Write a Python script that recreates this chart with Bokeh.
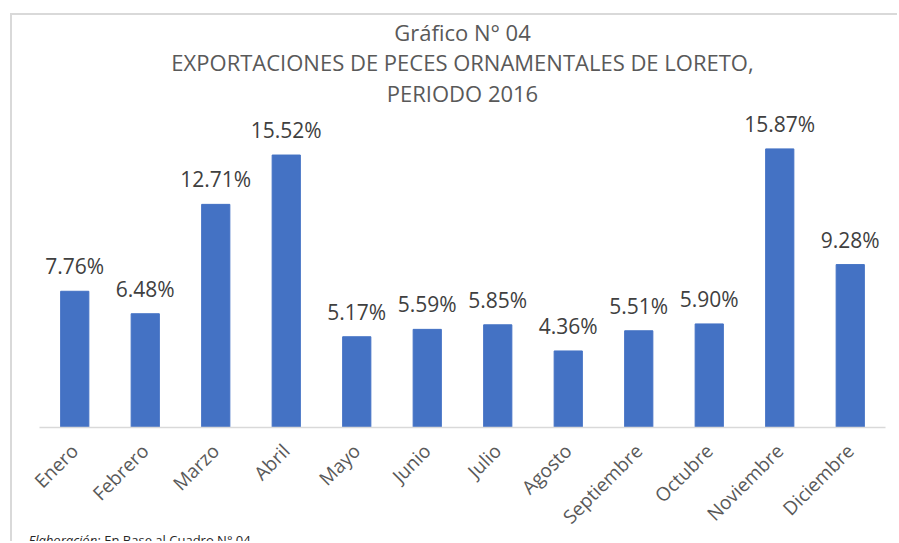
from math import pi
from bokeh.plotting import figure
from bokeh.models import ColumnDataSource, LabelSet, FixedTicker, Range1d, Title, InlineStyleSheet
from bokeh.core.properties import value
from bokeh.embed import file_html
from bokeh.resources import INLINE

months = ["Enero", "Febrero", "Marzo", "Abril", "Mayo", "Junio", "Julio",
          "Agosto", "Septiembre", "Octubre", "Noviembre", "Diciembre"]
shares = [7.76, 6.48, 12.71, 15.52, 5.17, 5.59, 5.85, 4.36, 5.51, 5.90, 15.87, 9.28]
title_lines = ["Gráfico N° 04",
               "EXPORTACIONES DE PECES ORNAMENTALES DE LORETO,",
               "PERIODO 2016"]
footer_italic = "Elaboración"
footer_rest = ": En Base al Cuadro N° 04"

FONT = "Open Sans"
W, H = 897, 541
FL, FR, FT, FB = 39, 12, 111, 114
YMAX = 18.0
BORDER = "#d9d9d9"

pos = list(range(len(months)))
src = ColumnDataSource(dict(x=pos, y=shares, lab=[f"{v:.2f}%" for v in shares]))

p = figure(width=W, height=H, output_backend="svg", toolbar_location=None,
           x_range=Range1d(-0.5, len(months) - 0.5), y_range=Range1d(0, YMAX),
           y_axis_location=None, min_border_left=FL, min_border_right=FR,
           min_border_top=FT, min_border_bottom=FB, title=None)
# light grey chart-area border (left and top edges) painted behind a transparent canvas border
grad = f"linear-gradient({BORDER}, {BORDER})"
p.stylesheets = [InlineStyleSheet(css=(
    ":host { background: "
    f"{grad} 10px 13px / 2px 100% no-repeat, "
    f"{grad} 10px 13px / 100% 2px no-repeat, white; }}"))]
p.border_fill_alpha = 0
p.outline_line_color = None
p.grid.visible = False
p.background_fill_color = "white"

for txt, so in zip(reversed(title_lines), [7, -9, 5]):
    p.add_layout(Title(text=txt, align="center", standoff=so, text_font=FONT,
                       text_font_size="22px", text_font_style="normal",
                       text_color="#595959"), "above")

p.vbar(x="x", top="y", width=0.4, source=src, color="#4472C4")

p.add_layout(LabelSet(x="x", y="y", text="lab", source=src, text_align="center",
                      text_baseline="bottom", y_offset=11, text_font=value(FONT),
                      text_font_size="21px", text_color="#404040"))

ax = p.xaxis[0]
ax.ticker = FixedTicker(ticks=pos)
ax.major_label_overrides = {i: m for i, m in enumerate(months)}
ax.major_label_orientation = pi / 4
ax.major_tick_line_color = None
ax.minor_tick_line_color = None
ax.axis_line_color = BORDER
ax.axis_line_width = 1.5
ax.major_label_standoff = 14
ax.major_label_text_font = FONT
ax.major_label_text_font_size = "19px"
ax.major_label_text_color = "#595959"

p.add_layout(Title(text=footer_italic, align="left", offset=-11, standoff=-21,
                   vertical_align="top", text_font=FONT, text_font_style="italic",
                   text_font_size="13px", text_color="#262626"), "below")
p.add_layout(Title(text=footer_rest, align="left", offset=58, standoff=-21,
                   vertical_align="top", text_font=FONT, text_font_style="normal",
                   text_font_size="13px", text_color="#262626"), "below")

open("out.html", "w").write(file_html(p, INLINE))
